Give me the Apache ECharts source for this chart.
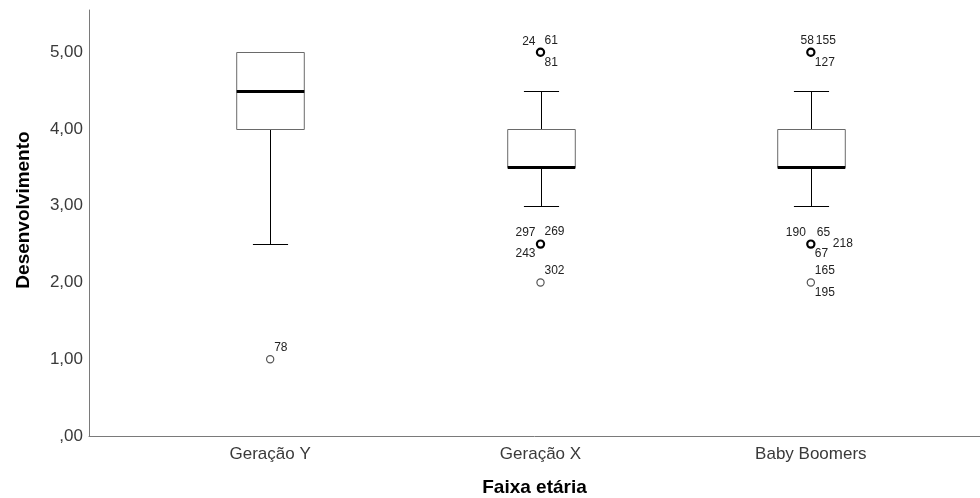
<!DOCTYPE html>
<html>
<head>
<meta charset="utf-8">
<script src="https://cdn.jsdelivr.net/npm/echarts@6/dist/echarts.min.js"></script>
<style>html,body{margin:0;padding:0;background:#fff}#c{width:980px;height:498px}</style>
</head>
<body>
<div id="c"></div>
<script>
// ---- data ----
const categories = ['Geração Y', 'Geração X', 'Baby Boomers'];
const lowWhisker = [2.5, 3.0, 3.0];
const q1 = [4.0, 3.5, 3.5];
const median = [4.5, 3.5, 3.5];
const q3 = [5.0, 4.0, 4.0];
const highWhisker = [5.0, 4.5, 4.5];
const outlierCat = [0, 1, 1, 1, 2, 2, 2];
const outlierValue = [1.0, 5.0, 2.5, 2.0, 5.0, 2.5, 2.0];
const outlierIds = [['78'], ['24', '61', '81'], ['297', '269', '243'], ['302'], ['58', '155', '127'], ['190', '65', '218', '67'], ['165', '195']];
const yTicks = [0, 1, 2, 3, 4, 5];
const yTitle = 'Desenvolvimento';
const xTitle = 'Faixa etária';

// ---- styling (label placement codes) ----
const labelSpots = [['tr'], ['tl', 'tr', 'br'], ['tl', 'tr', 'bl'], ['tr'], ['tln', 'trn', 'br'], ['tl', 'trw', 'r', 'br'], ['tr', 'br']];
const spotStyle = {
  tl: {dx: -5, dy: -11, align: 'right'},
  tln: {dx: 3, dy: -12, align: 'right'},
  tr: {dx: 4, dy: -12, align: 'left'},
  trn: {dx: 5, dy: -12, align: 'left'},
  trw: {dx: 6, dy: -11, align: 'left'},
  br: {dx: 4, dy: 10, align: 'left'},
  bl: {dx: -5, dy: 10, align: 'right'},
  r: {dx: 22, dy: 0, align: 'left'}
};
const FONT = 'Liberation Sans, Arial, sans-serif';

const chart = echarts.init(document.getElementById('c'), null, {renderer: 'canvas'});

const boxData = categories.map((c, i) => [i, lowWhisker[i], q1[i], median[i], q3[i], highWhisker[i]]);
const outData = outlierCat.map((c, i) => [c, outlierValue[i], i]);

function fmt(v) {
  if (v === 0) return ',00';
  return v.toFixed(2).replace('.', ',');
}

const option = {
  backgroundColor: '#fff',
  animation: false,
  grid: [
    {left: 89, right: 0, top: 10, bottom: 62, containLabel: false, outerBoundsMode: 'none'},
    {left: 135, right: 34, top: 10, bottom: 62, containLabel: false, outerBoundsMode: 'none'}
  ],
  xAxis: [
    {gridIndex: 0, type: 'value', min: 0, max: 1,
      axisLine: {show: true, lineStyle: {color: '#7a7a7a', width: 1}},
      axisTick: {show: false}, axisLabel: {show: false}, splitLine: {show: false},
      name: xTitle, nameLocation: 'middle', nameGap: 42,
      nameTextStyle: {fontSize: 19, fontWeight: 'bold', color: '#000', fontFamily: FONT}},
    {gridIndex: 1, type: 'category', data: categories,
      axisLine: {show: false}, axisTick: {show: false}, splitLine: {show: false},
      axisLabel: {fontSize: 17, color: '#3a3a3a', fontFamily: FONT, margin: 10}}
  ],
  yAxis: [
    {gridIndex: 0, type: 'value', min: yTicks[0], max: 5.55, interval: 1,
      axisLine: {show: true, lineStyle: {color: '#7a7a7a', width: 1}},
      axisTick: {show: false}, splitLine: {show: false},
      axisLabel: {fontSize: 17, color: '#3a3a3a', fontFamily: FONT, margin: 6,
        formatter: v => yTicks.indexOf(v) >= 0 ? fmt(v) : ''},
      name: yTitle, nameLocation: 'middle', nameGap: 56,
      nameTextStyle: {fontSize: 19, fontWeight: 'bold', color: '#000', fontFamily: FONT,
        padding: [0, 0, 0, 26]}},
    {gridIndex: 1, type: 'value', min: 0, max: 5.55, show: false}
  ],
  series: [
    {
      type: 'custom', xAxisIndex: 1, yAxisIndex: 1,
      data: boxData,
      encode: {x: 0, y: [1, 2, 3, 4, 5]},
      renderItem: function (params, api) {
        const idx = api.value(0);
        const bw = api.size([1, 0])[0];
        const boxW = bw * 0.25;
        const capW = boxW * 0.52;
        const cx = Math.round(api.coord([idx, 0])[0]) + 0.5;
        const y = k => Math.round(api.coord([idx, api.value(k)])[1]) + 0.5;
        const yLo = y(1), yQ1 = y(2), yMed = y(3), yQ3 = y(4), yHi = y(5);
        const blk = {stroke: '#000', lineWidth: 1};
        const children = [
          {type: 'line', shape: {x1: cx, y1: yLo, x2: cx, y2: yQ1}, style: blk},
          {type: 'line', shape: {x1: cx, y1: yQ3, x2: cx, y2: yHi}, style: blk},
          {type: 'line', shape: {x1: cx - capW / 2, y1: yLo, x2: cx + capW / 2, y2: yLo}, style: blk},
          {type: 'line', shape: {x1: cx - capW / 2, y1: yHi, x2: cx + capW / 2, y2: yHi}, style: blk},
          {type: 'rect', shape: {x: cx - boxW / 2, y: yQ3, width: boxW, height: yQ1 - yQ3},
            style: {fill: '#fff', stroke: '#6a6a6a', lineWidth: 1}},
          {type: 'line', shape: {x1: cx - boxW / 2, y1: yMed, x2: cx + boxW / 2, y2: yMed},
            style: {stroke: '#000', lineWidth: 3}}
        ];
        return {type: 'group', children: children};
      }
    },
    {
      type: 'custom', xAxisIndex: 1, yAxisIndex: 1,
      data: outData,
      encode: {x: 0, y: 1},
      renderItem: function (params, api) {
        const k = api.value(2);
        const p = api.coord([api.value(0), api.value(1)]);
        const ids = outlierIds[k];
        const bold = ids.length > 2;
        const children = [{
          type: 'circle', shape: {cx: p[0], cy: p[1], r: 3.6},
          style: {fill: '#fff', stroke: bold ? '#000' : '#555', lineWidth: bold ? 2.2 : 1.2}
        }];
        ids.forEach((id, j) => {
          const s = spotStyle[labelSpots[k][j]];
          children.push({
            type: 'text',
            style: {x: p[0] + s.dx, y: p[1] + s.dy, text: id, align: s.align, verticalAlign: 'middle',
              font: '12px ' + FONT, fill: '#222'}
          });
        });
        return {type: 'group', children: children};
      }
    }
  ]
};
chart.setOption(option);
</script>
</body>
</html>
